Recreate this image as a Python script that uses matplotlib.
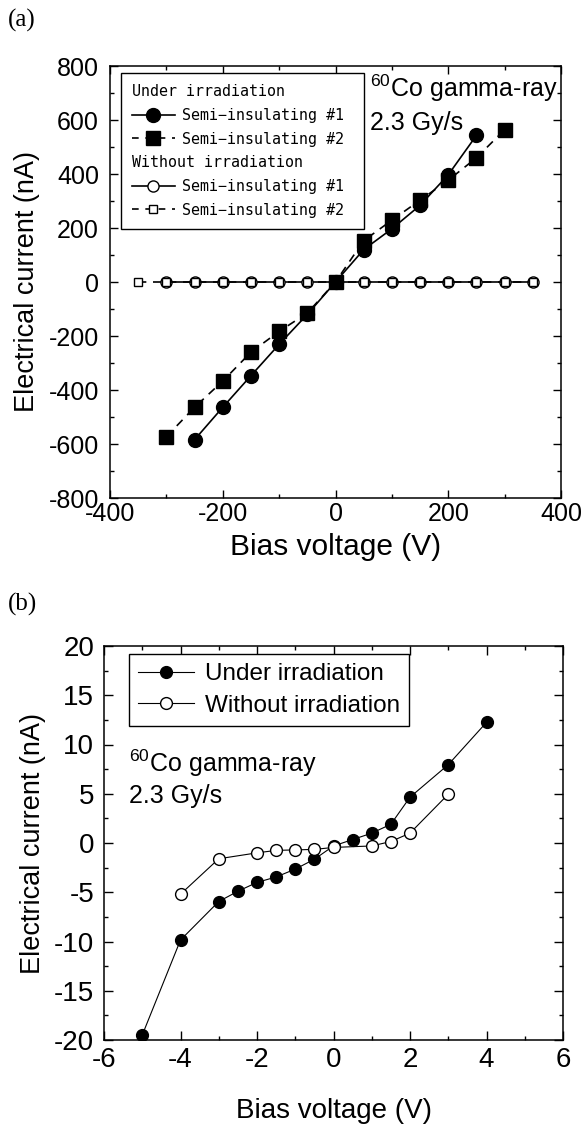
import matplotlib
matplotlib.use("Agg")
import matplotlib.pyplot as plt
from matplotlib.lines import Line2D
from matplotlib.ticker import MultipleLocator

plt.rcParams['font.family'] = ['Liberation Sans', 'DejaVu Sans']
plt.rcParams['mathtext.fontset'] = 'custom'
plt.rcParams['mathtext.rm'] = 'Liberation Sans'
plt.rcParams['mathtext.it'] = 'Liberation Sans'
plt.rcParams['axes.unicode_minus'] = False

# ---------------- Panel (a) data ----------------
a_x1_irr = [-250, -200, -150, -100, -50, 0, 50, 100, 150, 200, 250]
a_y1_irr = [-584, -464, -347, -231, -120, 0, 120, 197, 284, 397, 543]
a_x2_irr = [-300, -250, -200, -150, -100, -50, 0, 50, 100, 150, 200, 250, 300]
a_y2_irr = [-573, -464, -367, -260, -183, -115, 0, 153, 229, 303, 377, 460, 564]
a_x1_dark = [-300, -250, -200, -150, -100, -50, 0, 50, 100, 150, 200, 250, 300, 350]
a_y1_dark = [0, 0, 0, 0, 0, 0, 0, 0, 0, 0, 0, 0, 0, 0]
a_x2_dark = [-350, -300, -250, -200, -150, -100, -50, 0, 50, 100, 150, 200, 250, 300, 350]
a_y2_dark = [0, 0, 0, 0, 0, 0, 0, 0, 0, 0, 0, 0, 0, 0, 0]

# ---------------- Panel (b) data ----------------
b_x_irr = [-5, -4, -3, -2.5, -2, -1.5, -1, -0.5, 0, 0.5, 1, 1.5, 2, 3, 4]
b_y_irr = [-19.5, -9.85, -5.94, -4.9, -4.0, -3.45, -2.65, -1.65, -0.3, 0.35, 1.0, 1.9, 4.65, 7.95, 12.25]
b_x_dark = [-4, -3, -2, -1.5, -1, -0.5, 0, 1, 1.5, 2, 3]
b_y_dark = [-5.2, -1.6, -1.0, -0.75, -0.7, -0.65, -0.45, -0.3, 0.15, 1.0, 4.95]

W, H = 585, 1124
fig = plt.figure(figsize=(W / 100, H / 100), dpi=100)

def style_axes(ax, major_len, minor_len, fs, xpad, ypad):
    for s in ax.spines.values():
        s.set_linewidth(1.1)
    ax.tick_params(which='both', direction='in', top=True, right=True,
                   width=1.0, labelsize=fs)
    ax.tick_params(which='major', length=major_len)
    ax.tick_params(which='minor', length=minor_len)
    ax.tick_params(axis='x', which='major', pad=xpad)
    ax.tick_params(axis='y', which='major', pad=ypad)

# ---------------- (a) ----------------
axa = fig.add_axes([110 / W, 1 - 498 / H, 451 / W, 432 / H])
axa.plot(a_x1_dark, a_y1_dark, '-', color='black', lw=1.2, marker='o', ms=8,
         mfc='white', mec='black', mew=1.0, zorder=3)
axa.plot(a_x2_dark, a_y2_dark, '--', color='black', lw=1.2, marker='s', ms=5.5,
         mfc='white', mec='black', mew=1.0, dashes=(5, 4), zorder=4)
axa.plot(a_x1_irr, a_y1_irr, '-', color='black', lw=1.2, marker='o', ms=10,
         mfc='black', mec='black', zorder=5)
axa.plot(a_x2_irr, a_y2_irr, '--', color='black', lw=1.2, marker='s', ms=9.5,
         mfc='black', mec='black', dashes=(5, 4), zorder=5)
axa.set_xlim(-400, 400)
axa.set_ylim(-800, 800)
axa.xaxis.set_major_locator(MultipleLocator(200))
axa.xaxis.set_minor_locator(MultipleLocator(100))
axa.yaxis.set_major_locator(MultipleLocator(200))
axa.yaxis.set_minor_locator(MultipleLocator(100))
style_axes(axa, 5.5, 3, 18, 3, 8)
axa.set_xlabel('Bias voltage (V)', fontsize=21.5, labelpad=5)
axa.set_ylabel('Electrical current (nA)', fontsize=19.5, labelpad=6)

hdr = Line2D([], [], linestyle='none')
h1 = Line2D([], [], color='black', lw=1.2, marker='o', ms=10, mfc='black')
h2 = Line2D([], [], color='black', lw=1.2, ls='--', dashes=(4, 4), marker='s', ms=9.5, mfc='black')
h3 = Line2D([], [], color='black', lw=1.2, marker='o', ms=8, mfc='white', mew=1.0)
h4 = Line2D([], [], color='black', lw=1.2, ls='--', dashes=(4, 4), marker='s', ms=5.5, mfc='white', mew=1.0)
leg_fs = 10.8
leg_hl, leg_tp = 2.85, 0.45
leg_font = {'family': 'DejaVu Sans Mono', 'size': leg_fs}
lega = axa.legend([hdr, h1, h2, hdr, h3, h4],
                  ['Under irradiation', 'Semi\u2212insulating #1', 'Semi\u2212insulating #2',
                   'Without irradiation', 'Semi\u2212insulating #1', 'Semi\u2212insulating #2'],
                  loc='upper left', bbox_to_anchor=(0.024, 0.984), borderaxespad=0,
                  prop=leg_font, handlelength=leg_hl, handletextpad=leg_tp,
                  labelspacing=0.58, borderpad=0.75, fancybox=False, framealpha=1,
                  edgecolor='black')
lega.get_frame().set_linewidth(1.0)
shift_px = (leg_hl + leg_tp) * leg_fs * 100 / 72
for i in (0, 3):
    lega.get_texts()[i].set_x(-shift_px)

axa.text(0.576, 0.928, '$^{60}$Co gamma-ray', transform=axa.transAxes,
         fontsize=18, ha='left', va='baseline')
axa.text(0.576, 0.852, '2.3 Gy/s', transform=axa.transAxes,
         fontsize=18, ha='left', va='baseline')

fig.text(8 / W, 1 - 20 / H, '(a)', family='Liberation Serif', fontsize=18,
         ha='left', va='center')

# ---------------- (b) ----------------
axb = fig.add_axes([104 / W, 1 - 1040 / H, 459 / W, 394 / H])
axb.plot(b_x_irr, b_y_irr, '-', color='black', lw=0.8, marker='o', ms=8.5,
         mfc='black', mec='black', zorder=3)
axb.plot(b_x_dark, b_y_dark, '-', color='black', lw=0.8, marker='o', ms=8.5,
         mfc='white', mec='black', mew=1.0, zorder=4)
axb.set_xlim(-6, 6)
axb.set_ylim(-20, 20)
axb.xaxis.set_major_locator(MultipleLocator(2))
axb.xaxis.set_minor_locator(MultipleLocator(1))
axb.yaxis.set_major_locator(MultipleLocator(5))
axb.yaxis.set_minor_locator(MultipleLocator(2.5))
style_axes(axb, 6.2, 3.1, 20, 5, 7)
axb.set_xlabel('Bias voltage (V)', fontsize=20, labelpad=18)
axb.set_ylabel('Electrical current (nA)', fontsize=19.5, labelpad=6)

hb1 = Line2D([], [], color='black', lw=0.8, marker='o', ms=8.5, mfc='black')
hb2 = Line2D([], [], color='black', lw=0.8, marker='o', ms=8.5, mfc='white', mew=1.0)
legb = axb.legend([hb1, hb2], ['Under irradiation', 'Without irradiation'],
                  loc='upper left', bbox_to_anchor=(0.054, 0.980), borderaxespad=0,
                  fontsize=17.5, handlelength=2.3, handletextpad=0.45,
                  labelspacing=0.4, borderpad=0.38, fancybox=False, framealpha=1,
                  edgecolor='black')
legb.get_frame().set_linewidth(1.0)

axb.text(0.054, 0.680, '$^{60}$Co gamma-ray', transform=axb.transAxes,
         fontsize=18, ha='left', va='baseline')
axb.text(0.054, 0.6015, '2.3 Gy/s', transform=axb.transAxes,
         fontsize=18, ha='left', va='baseline')

fig.text(8 / W, 1 - 604 / H, '(b)', family='Liberation Serif', fontsize=18,
         ha='left', va='center')

fig.savefig('out.png', dpi=100)
